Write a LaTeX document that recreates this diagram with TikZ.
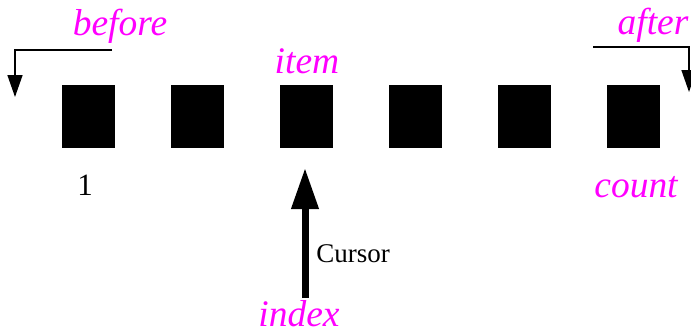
\documentclass[tikz,border=0pt]{standalone}
\usepackage{fontspec}
\setmainfont{Liberation Serif}
\usetikzlibrary{arrows.meta}
\definecolor{lbl}{RGB}{255,0,255}
\tikzset{
  cell/.style={fill=black,draw=none,minimum width=53pt,minimum height=63pt,inner sep=0pt},
  mag/.style={text=lbl,font=\fontsize{37.5}{37.5}\selectfont\itshape,inner sep=0pt,anchor=base},
  plain/.style={font=\fontsize{31}{31}\selectfont,inner sep=0pt,anchor=base},
  small/.style={font=\fontsize{27}{27}\selectfont,inner sep=0pt,anchor=base},
  thin arrow/.style={line width=1.5pt,-{Triangle[length=22pt,width=15pt]}},
  thick arrow/.style={line width=7pt,-{Triangle[length=41pt,width=26pt]}}
}
\begin{document}
\begin{tikzpicture}[x=1pt,y=-1pt]
\useasboundingbox (0,0) rectangle (691,330);
\foreach \i in {1,...,6}{
  \node[cell] (s\i) at ({88.5+109*(\i-1)},116.5) {};
}
\node[mag] (before) at (120,35) {before};
\node[mag] (after) at (653,34) {after};
\node[mag] (item) at (307,73) {item};
\node[mag] (count) at (636,197) {count};
\node[mag] (index) at (299,326) {index};
\node[plain] (one) at (85,195) {1};
\node[small] (cursor) at (353,262) {Cursor};
\coordinate (b0) at (112,50);
\coordinate (b1) at (15,50);
\coordinate (b2) at (15,97);
\coordinate (a0) at (593,47);
\coordinate (a1) at (689,47);
\coordinate (a2) at (689,92);
\coordinate (c0) at (305,298);
\coordinate (c1) at (305,168);
\draw[thin arrow] (b0) -- (b1) -- (b2);
\draw[thin arrow] (a0) -- (a1) -- (a2);
\draw[thick arrow] (c0) -- (c1);
\end{tikzpicture}
\end{document}
